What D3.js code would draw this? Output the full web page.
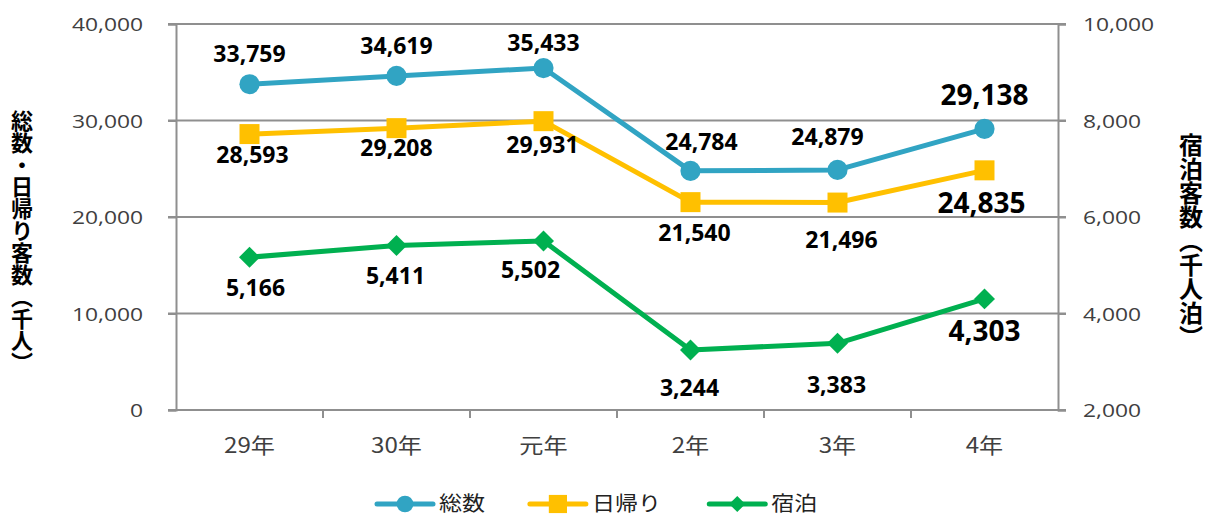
<!DOCTYPE html>
<html>
<head>
<meta charset="utf-8">
<script src="https://cdn.jsdelivr.net/npm/d3@7"></script>
<style>
  body { margin: 0; background: #fff; }
  svg { display: block; }
</style>
</head>
<body>
<div id="chart"></div>
<script>
// data
const years = ["29年", "30年", "元年", "2年", "3年", "4年"];
const total = [33759, 34619, 35433, 24784, 24879, 29138];
const dayTrip = [28593, 29208, 29931, 21540, 21496, 24835];
const overnight = [5166, 5411, 5502, 3244, 3383, 4303];
const leftTicks = [0, 10000, 20000, 30000, 40000];
const rightTicks = [2000, 4000, 6000, 8000, 10000];

// label nudges (where Excel put each label, relative to the point)
const totalNudge = [[0, -31], [0, -30], [0, -25], [11, -29], [-10, -33], [0, -34]];
const dayNudge = [[3, 21], [0, 20], [-1, 24], [4, 31], [4, 37], [-3, 33]];
const nightNudge = [[6, 30], [-1, 30], [-13, 29], [-1, 38], [-1, 41], [0, 32]];

const W = 1210, H = 518;
const margin = { left: 176, right: 152, top: 24, bottom: 108 };
const width = W - margin.left - margin.right;
const height = H - margin.top - margin.bottom;

const numFont = "'Open Sans', 'Liberation Sans', sans-serif";
const jpFont = "'Noto Sans CJK JP', sans-serif";
const gridColor = "#8f8f8f";

const svg = d3.select("#chart").append("svg")
  .attr("width", W)
  .attr("height", H);

const g = svg.append("g")
  .attr("transform", `translate(${margin.left},${margin.top})`);

// scales
const x = d3.scaleBand().domain(years).range([0, width]);
const yL = d3.scaleLinear().domain([0, 40000]).range([height, 0]);
const yR = d3.scaleLinear().domain([2000, 10000]).range([height, 0]);

// stretch text a bit wider, like the original
function widen(sel, k) {
  sel.each(function () {
    const len = this.getComputedTextLength();
    d3.select(this).attr("textLength", len * k).attr("lengthAdjust", "spacingAndGlyphs");
  });
}

// gridlines (run into tick marks on both sides)
g.append("g")
  .selectAll("line")
  .data(leftTicks)
  .join("line")
    .attr("x1", -8)
    .attr("x2", width + 8)
    .attr("y1", d => yL(d))
    .attr("y2", d => yL(d))
    .attr("stroke", gridColor)
    .attr("stroke-width", 2);

// left axis
const leftAxis = g.append("g")
  .call(d3.axisLeft(yL).tickValues(leftTicks).tickSize(8).tickFormat(d3.format(",")));
leftAxis.select(".domain").attr("stroke", gridColor).attr("stroke-width", 2);
leftAxis.selectAll(".tick line").attr("stroke", gridColor).attr("stroke-width", 2);
leftAxis.selectAll("text")
  .attr("x", -33)
  .attr("dy", "0.36em")
  .attr("fill", "#404040")
  .style("font-family", numFont)
  .style("font-size", "19px")
  .call(widen, 1.2);

// right axis
const rightAxis = g.append("g")
  .attr("transform", `translate(${width},0)`)
  .call(d3.axisRight(yR).tickValues(rightTicks).tickSize(8).tickFormat(d3.format(",")));
rightAxis.select(".domain").attr("stroke", gridColor).attr("stroke-width", 2);
rightAxis.selectAll(".tick line").attr("stroke", gridColor).attr("stroke-width", 2);
rightAxis.selectAll("text")
  .attr("x", 25)
  .attr("dy", "0.36em")
  .attr("fill", "#404040")
  .style("font-family", numFont)
  .style("font-size", "19px")
  .call(widen, 1.2);

// bottom axis, ticks between categories
const bottom = g.append("g").attr("transform", `translate(0,${height})`);
bottom.append("line")
  .attr("x1", -8).attr("x2", width + 8)
  .attr("stroke", gridColor).attr("stroke-width", 2);
bottom.selectAll(".sep")
  .data(years.slice(1))
  .join("line")
    .attr("x1", d => x(d)).attr("x2", d => x(d))
    .attr("y1", 0).attr("y2", 8)
    .attr("stroke", gridColor).attr("stroke-width", 2);
bottom.selectAll(".cat")
  .data(years)
  .join("text")
    .attr("x", d => x(d) + x.bandwidth() / 2)
    .attr("y", 35)
    .attr("dy", "0.36em")
    .attr("text-anchor", "middle")
    .attr("fill", "#404040")
    .style("font-family", jpFont)
    .style("font-size", "21px")
    .text(d => d)
    .call(widen, 1.15);

// series
const series = [
  { name: "総数", values: total, y: yL, color: "#31A4C3", shape: d3.symbolCircle, size: 320, rot: 0, nudge: totalNudge },
  { name: "日帰り", values: dayTrip, y: yL, color: "#FFC000", shape: d3.symbolSquare, size: 400, rot: 0, nudge: dayNudge },
  { name: "宿泊", values: overnight, y: yR, color: "#00B050", shape: d3.symbolSquare, size: 220, rot: 45, nudge: nightNudge }
];

const cx = i => x(years[i]) + x.bandwidth() / 2;

series.forEach(s => {
  const line = d3.line()
    .x((d, i) => cx(i))
    .y(d => s.y(d));

  g.append("path")
    .datum(s.values)
    .attr("d", line)
    .attr("fill", "none")
    .attr("stroke", s.color)
    .attr("stroke-width", 5)
    .attr("stroke-linejoin", "round")
    .attr("stroke-linecap", "round");

  g.append("g")
    .selectAll("path")
    .data(s.values)
    .join("path")
      .attr("d", d3.symbol(s.shape, s.size))
      .attr("transform", (d, i) => `translate(${cx(i)},${s.y(d)}) rotate(${s.rot})`)
      .attr("fill", s.color);
});

// data labels
series.forEach(s => {
  g.append("g")
    .selectAll("text")
    .data(s.values)
    .join("text")
      .attr("x", (d, i) => cx(i) + s.nudge[i][0])
      .attr("y", (d, i) => s.y(d) + s.nudge[i][1])
      .attr("dy", "0.36em")
      .attr("text-anchor", "middle")
      .attr("fill", "#000")
      .style("font-family", numFont)
      .style("font-weight", "bold")
      .style("font-size", (d, i) => i === years.length - 1 ? "28px" : "23px")
      .text(d => d3.format(",")(d));
});

// axis titles
svg.append("text")
  .attr("x", 22)
  .attr("y", 242)
  .attr("text-anchor", "middle")
  .style("writing-mode", "vertical-rl")
  .style("font-family", jpFont)
  .style("font-weight", "bold")
  .style("font-size", "22px")
  .attr("fill", "#000")
  .text("総数・日帰り客数（千人）");

svg.append("text")
  .attr("x", 1191)
  .attr("y", 241)
  .attr("text-anchor", "middle")
  .style("writing-mode", "vertical-rl")
  .style("font-family", jpFont)
  .style("font-weight", "bold")
  .style("font-size", "24px")
  .attr("fill", "#000")
  .text("宿泊客数（千人泊）");

// legend
const legend = svg.append("g").attr("transform", "translate(377,504)");
const legendSize = [220, 330, 130];
let lx = 0;
series.forEach((s, i) => {
  const item = legend.append("g").attr("transform", `translate(${lx},0)`);
  item.append("line")
    .attr("x1", 0).attr("x2", 56)
    .attr("stroke", s.color)
    .attr("stroke-width", 5)
    .attr("stroke-linecap", "round");
  item.append("path")
    .attr("d", d3.symbol(s.shape, legendSize[i]))
    .attr("transform", `translate(28,0) rotate(${s.rot})`)
    .attr("fill", s.color);
  const t = item.append("text")
    .attr("x", 62)
    .attr("dy", "0.36em")
    .attr("fill", "#222")
    .style("font-family", jpFont)
    .style("font-size", "20px")
    .text(s.name)
    .call(widen, 1.15);
  lx += 62 + t.node().getComputedTextLength() * 1.15 + 38;
});
</script>
</body>
</html>
